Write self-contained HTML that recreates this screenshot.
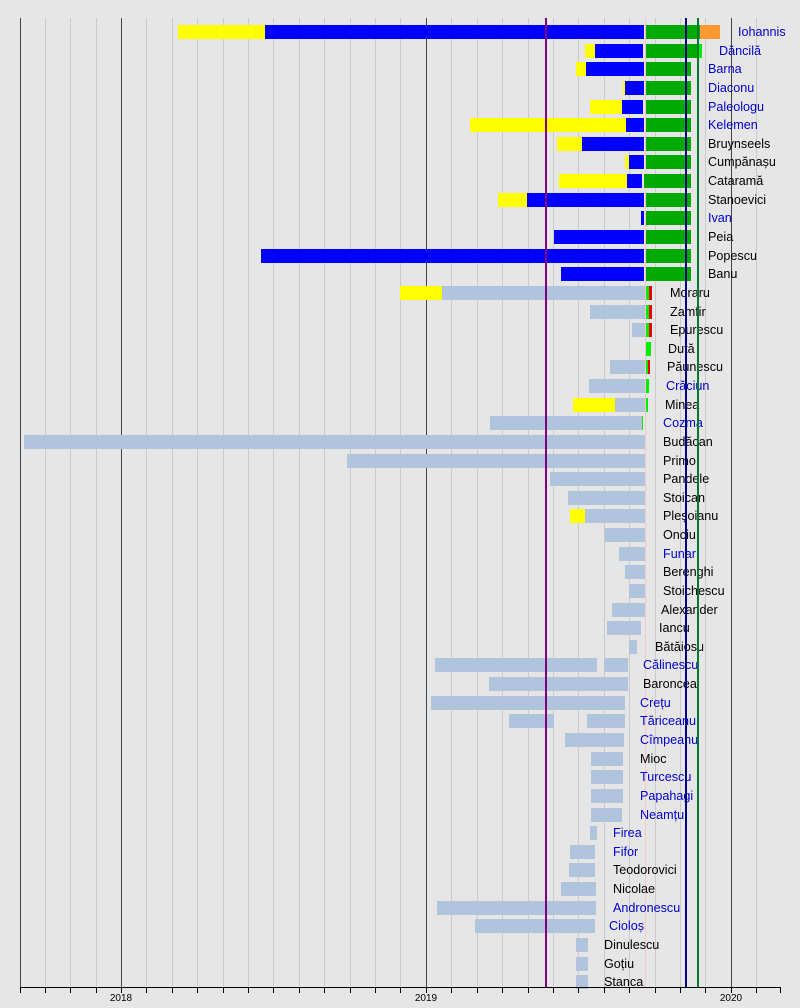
<!DOCTYPE html>
<html><head><meta charset="utf-8"><style>
body{margin:0;width:800px;height:1008px;background:#e6e6e6;position:relative;overflow:hidden;font-family:"Liberation Sans",sans-serif;}
.g{position:absolute;top:18px;height:970px;width:1px;background:#cacaca}
.y{position:absolute;top:18px;height:970px;width:1px;background:#444}
.r{position:absolute;left:0;width:800px;height:18px}
.r div{position:absolute;top:2px;height:14px}
.r span{position:absolute;top:0;line-height:18px;font-size:12.6px;color:#000;white-space:nowrap}
.r span.b{color:#0000cc}
.Y{background:#ffff00}.B{background:#0000ff}.G{background:#00aa00}.L{background:#b0c4de}.O{background:#ff9933}.R{background:#ee0000}.N{background:#00ee00}
.t{position:absolute;top:988px;width:1px;height:5px;background:#000}
.tl{position:absolute;top:993px;font-size:10px;width:40px;margin-left:-20px;text-align:center}
</style></head><body>
<div class="g" style="left:45px"></div><div class="g" style="left:70px"></div><div class="g" style="left:96px"></div>
<div class="g" style="left:146px"></div><div class="g" style="left:172px"></div><div class="g" style="left:197px"></div><div class="g" style="left:223px"></div><div class="g" style="left:248px"></div><div class="g" style="left:273px"></div><div class="g" style="left:299px"></div><div class="g" style="left:324px"></div><div class="g" style="left:350px"></div><div class="g" style="left:375px"></div><div class="g" style="left:400px"></div>
<div class="g" style="left:451px"></div><div class="g" style="left:477px"></div><div class="g" style="left:502px"></div><div class="g" style="left:528px"></div><div class="g" style="left:553px"></div><div class="g" style="left:578px"></div><div class="g" style="left:604px"></div><div class="g" style="left:629px"></div><div class="g" style="left:655px"></div><div class="g" style="left:680px"></div><div class="g" style="left:705px"></div>
<div class="g" style="left:756px"></div>
<div class="y" style="left:20px"></div><div class="y" style="left:121px"></div><div class="y" style="left:426px"></div><div class="y" style="left:731px"></div>
<div class="g" style="left:645px;background:#f4c8c8"></div>

<div class="r" style="top:23px"><div class="Y" style="left:178px;width:87px"></div><div class="B" style="left:265px;width:379px"></div><div class="G" style="left:646px;width:54px"></div><div class="O" style="left:700px;width:20px"></div><span class="b" style="left:738px">Iohannis</span></div>
<div class="r" style="top:41.6px"><div class="Y" style="left:585px;width:10px"></div><div class="B" style="left:595px;width:48px"></div><div class="G" style="left:646px;width:52px"></div><div class="N" style="left:698px;width:4px"></div><span class="b" style="left:719px">Dăncilă</span></div>
<div class="r" style="top:60.3px"><div class="Y" style="left:576px;width:10px"></div><div class="B" style="left:586px;width:58px"></div><div class="G" style="left:646px;width:45px"></div><span class="b" style="left:708px">Barna</span></div>
<div class="r" style="top:78.9px"><div class="Y" style="left:623px;width:2px"></div><div class="B" style="left:625px;width:19px"></div><div class="G" style="left:646px;width:45px"></div><span class="b" style="left:708px">Diaconu</span></div>
<div class="r" style="top:97.5px"><div class="Y" style="left:590px;width:32px"></div><div class="B" style="left:622px;width:21px"></div><div class="G" style="left:646px;width:45px"></div><span class="b" style="left:708px">Paleologu</span></div>
<div class="r" style="top:116.2px"><div class="Y" style="left:470px;width:156px"></div><div class="B" style="left:626px;width:18px"></div><div class="G" style="left:646px;width:45px"></div><span class="b" style="left:708px">Kelemen</span></div>
<div class="r" style="top:134.8px"><div class="Y" style="left:557px;width:25px"></div><div class="B" style="left:582px;width:62px"></div><div class="G" style="left:646px;width:45px"></div><span style="left:708px">Bruynseels</span></div>
<div class="r" style="top:153.4px"><div class="Y" style="left:625px;width:4px"></div><div class="B" style="left:629px;width:15px"></div><div class="G" style="left:646px;width:45px"></div><span style="left:708px">Cumpănașu</span></div>
<div class="r" style="top:172px"><div class="Y" style="left:559px;width:68px"></div><div class="B" style="left:627px;width:15px"></div><div class="G" style="left:644px;width:47px"></div><span style="left:708px">Cataramă</span></div>
<div class="r" style="top:190.7px"><div class="Y" style="left:498px;width:29px"></div><div class="B" style="left:527px;width:117px"></div><div class="G" style="left:646px;width:45px"></div><span style="left:708px">Stanoevici</span></div>
<div class="r" style="top:209.3px"><div class="B" style="left:641px;width:3px"></div><div class="G" style="left:646px;width:45px"></div><span class="b" style="left:708px">Ivan</span></div>
<div class="r" style="top:227.9px"><div class="B" style="left:554px;width:90px"></div><div class="G" style="left:646px;width:45px"></div><span style="left:708px">Peia</span></div>
<div class="r" style="top:246.6px"><div class="B" style="left:261px;width:383px"></div><div class="G" style="left:646px;width:45px"></div><span style="left:708px">Popescu</span></div>
<div class="r" style="top:265.2px"><div class="B" style="left:561px;width:83px"></div><div class="G" style="left:646px;width:45px"></div><span style="left:708px">Banu</span></div>
<div class="r" style="top:283.8px"><div class="Y" style="left:400px;width:42px"></div><div class="L" style="left:442px;width:203px"></div><div class="N" style="left:646px;width:3px"></div><div class="R" style="left:649px;width:3px"></div><span style="left:670px">Moraru</span></div>
<div class="r" style="top:302.5px"><div class="L" style="left:590px;width:55px"></div><div class="N" style="left:646px;width:3px"></div><div class="R" style="left:649px;width:3px"></div><span style="left:670px">Zamfir</span></div>
<div class="r" style="top:321.1px"><div class="L" style="left:632px;width:13px"></div><div class="N" style="left:646px;width:3px"></div><div class="R" style="left:649px;width:3px"></div><span style="left:670px">Epurescu</span></div>
<div class="r" style="top:339.7px"><div class="N" style="left:646px;width:5px"></div><span style="left:668px">Duță</span></div>
<div class="r" style="top:358.3px"><div class="L" style="left:610px;width:35px"></div><div class="N" style="left:646px;width:2px"></div><div class="R" style="left:648px;width:2px"></div><span style="left:667px">Păunescu</span></div>
<div class="r" style="top:377px"><div class="L" style="left:589px;width:56px"></div><div class="N" style="left:646px;width:3px"></div><span class="b" style="left:666px">Crăciun</span></div>
<div class="r" style="top:395.6px"><div class="Y" style="left:573px;width:42px"></div><div class="L" style="left:615px;width:30px"></div><div class="N" style="left:646px;width:2px"></div><span style="left:665px">Minea</span></div>
<div class="r" style="top:414.2px"><div class="L" style="left:490px;width:152px"></div><div class="N" style="left:642px;width:1px"></div><span class="b" style="left:663px">Cozma</span></div>
<div class="r" style="top:432.9px"><div class="L" style="left:24px;width:621px"></div><span style="left:663px">Budăcan</span></div>
<div class="r" style="top:451.5px"><div class="L" style="left:347px;width:298px"></div><span style="left:663px">Primo</span></div>
<div class="r" style="top:470.1px"><div class="L" style="left:550px;width:95px"></div><span style="left:663px">Pandele</span></div>
<div class="r" style="top:488.8px"><div class="L" style="left:568px;width:77px"></div><span style="left:663px">Stoican</span></div>
<div class="r" style="top:507.4px"><div class="Y" style="left:570px;width:15px"></div><div class="L" style="left:585px;width:60px"></div><span style="left:663px">Pleșoianu</span></div>
<div class="r" style="top:526px"><div class="L" style="left:605px;width:40px"></div><span style="left:663px">Onciu</span></div>
<div class="r" style="top:544.6px"><div class="L" style="left:619px;width:26px"></div><span class="b" style="left:663px">Funar</span></div>
<div class="r" style="top:563.3px"><div class="L" style="left:625px;width:20px"></div><span style="left:663px">Berenghi</span></div>
<div class="r" style="top:581.9px"><div class="L" style="left:629px;width:16px"></div><span style="left:663px">Stoichescu</span></div>
<div class="r" style="top:600.5px"><div class="L" style="left:612px;width:33px"></div><span style="left:661px">Alexander</span></div>
<div class="r" style="top:619.2px"><div class="L" style="left:607px;width:34px"></div><span style="left:659px">Iancu</span></div>
<div class="r" style="top:637.8px"><div class="L" style="left:629px;width:8px"></div><span style="left:655px">Bătăiosu</span></div>
<div class="r" style="top:656.4px"><div class="L" style="left:435px;width:162px"></div><div class="L" style="left:604px;width:24px"></div><span class="b" style="left:643px">Călinescu</span></div>
<div class="r" style="top:675.1px"><div class="L" style="left:489px;width:139px"></div><span style="left:643px">Baroncea</span></div>
<div class="r" style="top:693.7px"><div class="L" style="left:431px;width:194px"></div><span class="b" style="left:640px">Crețu</span></div>
<div class="r" style="top:712.3px"><div class="L" style="left:509px;width:45px"></div><div class="L" style="left:587px;width:38px"></div><span class="b" style="left:640px">Tăriceanu</span></div>
<div class="r" style="top:730.9px"><div class="L" style="left:565px;width:59px"></div><span class="b" style="left:640px">Cîmpeanu</span></div>
<div class="r" style="top:749.6px"><div class="L" style="left:591px;width:32px"></div><span style="left:640px">Mioc</span></div>
<div class="r" style="top:768.2px"><div class="L" style="left:591px;width:32px"></div><span class="b" style="left:640px">Turcescu</span></div>
<div class="r" style="top:786.8px"><div class="L" style="left:591px;width:32px"></div><span class="b" style="left:640px">Papahagi</span></div>
<div class="r" style="top:805.5px"><div class="L" style="left:591px;width:31px"></div><span class="b" style="left:640px">Neamțu</span></div>
<div class="r" style="top:824.1px"><div class="L" style="left:590px;width:7px"></div><span class="b" style="left:613px">Firea</span></div>
<div class="r" style="top:842.7px"><div class="L" style="left:570px;width:25px"></div><span class="b" style="left:613px">Fifor</span></div>
<div class="r" style="top:861.4px"><div class="L" style="left:569px;width:26px"></div><span style="left:613px">Teodorovici</span></div>
<div class="r" style="top:880px"><div class="L" style="left:561px;width:35px"></div><span style="left:613px">Nicolae</span></div>
<div class="r" style="top:898.6px"><div class="L" style="left:437px;width:159px"></div><span class="b" style="left:613px">Andronescu</span></div>
<div class="r" style="top:917.2px"><div class="L" style="left:475px;width:120px"></div><span class="b" style="left:609px">Cioloș</span></div>
<div class="r" style="top:935.9px"><div class="L" style="left:576px;width:12px"></div><span style="left:604px">Dinulescu</span></div>
<div class="r" style="top:954.5px"><div class="L" style="left:576px;width:12px"></div><span style="left:604px">Goțiu</span></div>
<div class="r" style="top:973.1px"><div class="L" style="left:576px;width:12px"></div><span style="left:604px">Stanca</span></div>

<div style="position:absolute;left:545px;top:18px;width:2px;height:970px;background:#800080"></div>
<div style="position:absolute;left:685px;top:18px;width:2px;height:970px;background:#000080"></div>
<div style="position:absolute;left:697px;top:18px;width:2px;height:970px;background:#007a33"></div>

<div style="position:absolute;left:20px;top:987px;width:761px;height:1px;background:#000"></div>
<div class="t" style="left:20px"></div><div class="t" style="left:45px"></div><div class="t" style="left:70px"></div><div class="t" style="left:96px"></div><div class="t" style="left:121px"></div><div class="t" style="left:146px"></div><div class="t" style="left:172px"></div><div class="t" style="left:197px"></div><div class="t" style="left:223px"></div><div class="t" style="left:248px"></div><div class="t" style="left:273px"></div><div class="t" style="left:299px"></div><div class="t" style="left:324px"></div><div class="t" style="left:350px"></div><div class="t" style="left:375px"></div><div class="t" style="left:400px"></div><div class="t" style="left:426px"></div><div class="t" style="left:451px"></div><div class="t" style="left:477px"></div><div class="t" style="left:502px"></div><div class="t" style="left:528px"></div><div class="t" style="left:553px"></div><div class="t" style="left:578px"></div><div class="t" style="left:604px"></div><div class="t" style="left:629px"></div><div class="t" style="left:655px"></div><div class="t" style="left:680px"></div><div class="t" style="left:705px"></div><div class="t" style="left:731px"></div><div class="t" style="left:756px"></div><div class="t" style="left:780px"></div>
<div class="tl" style="left:121px">2018</div><div class="tl" style="left:426px">2019</div><div class="tl" style="left:731px">2020</div>
</body></html>
